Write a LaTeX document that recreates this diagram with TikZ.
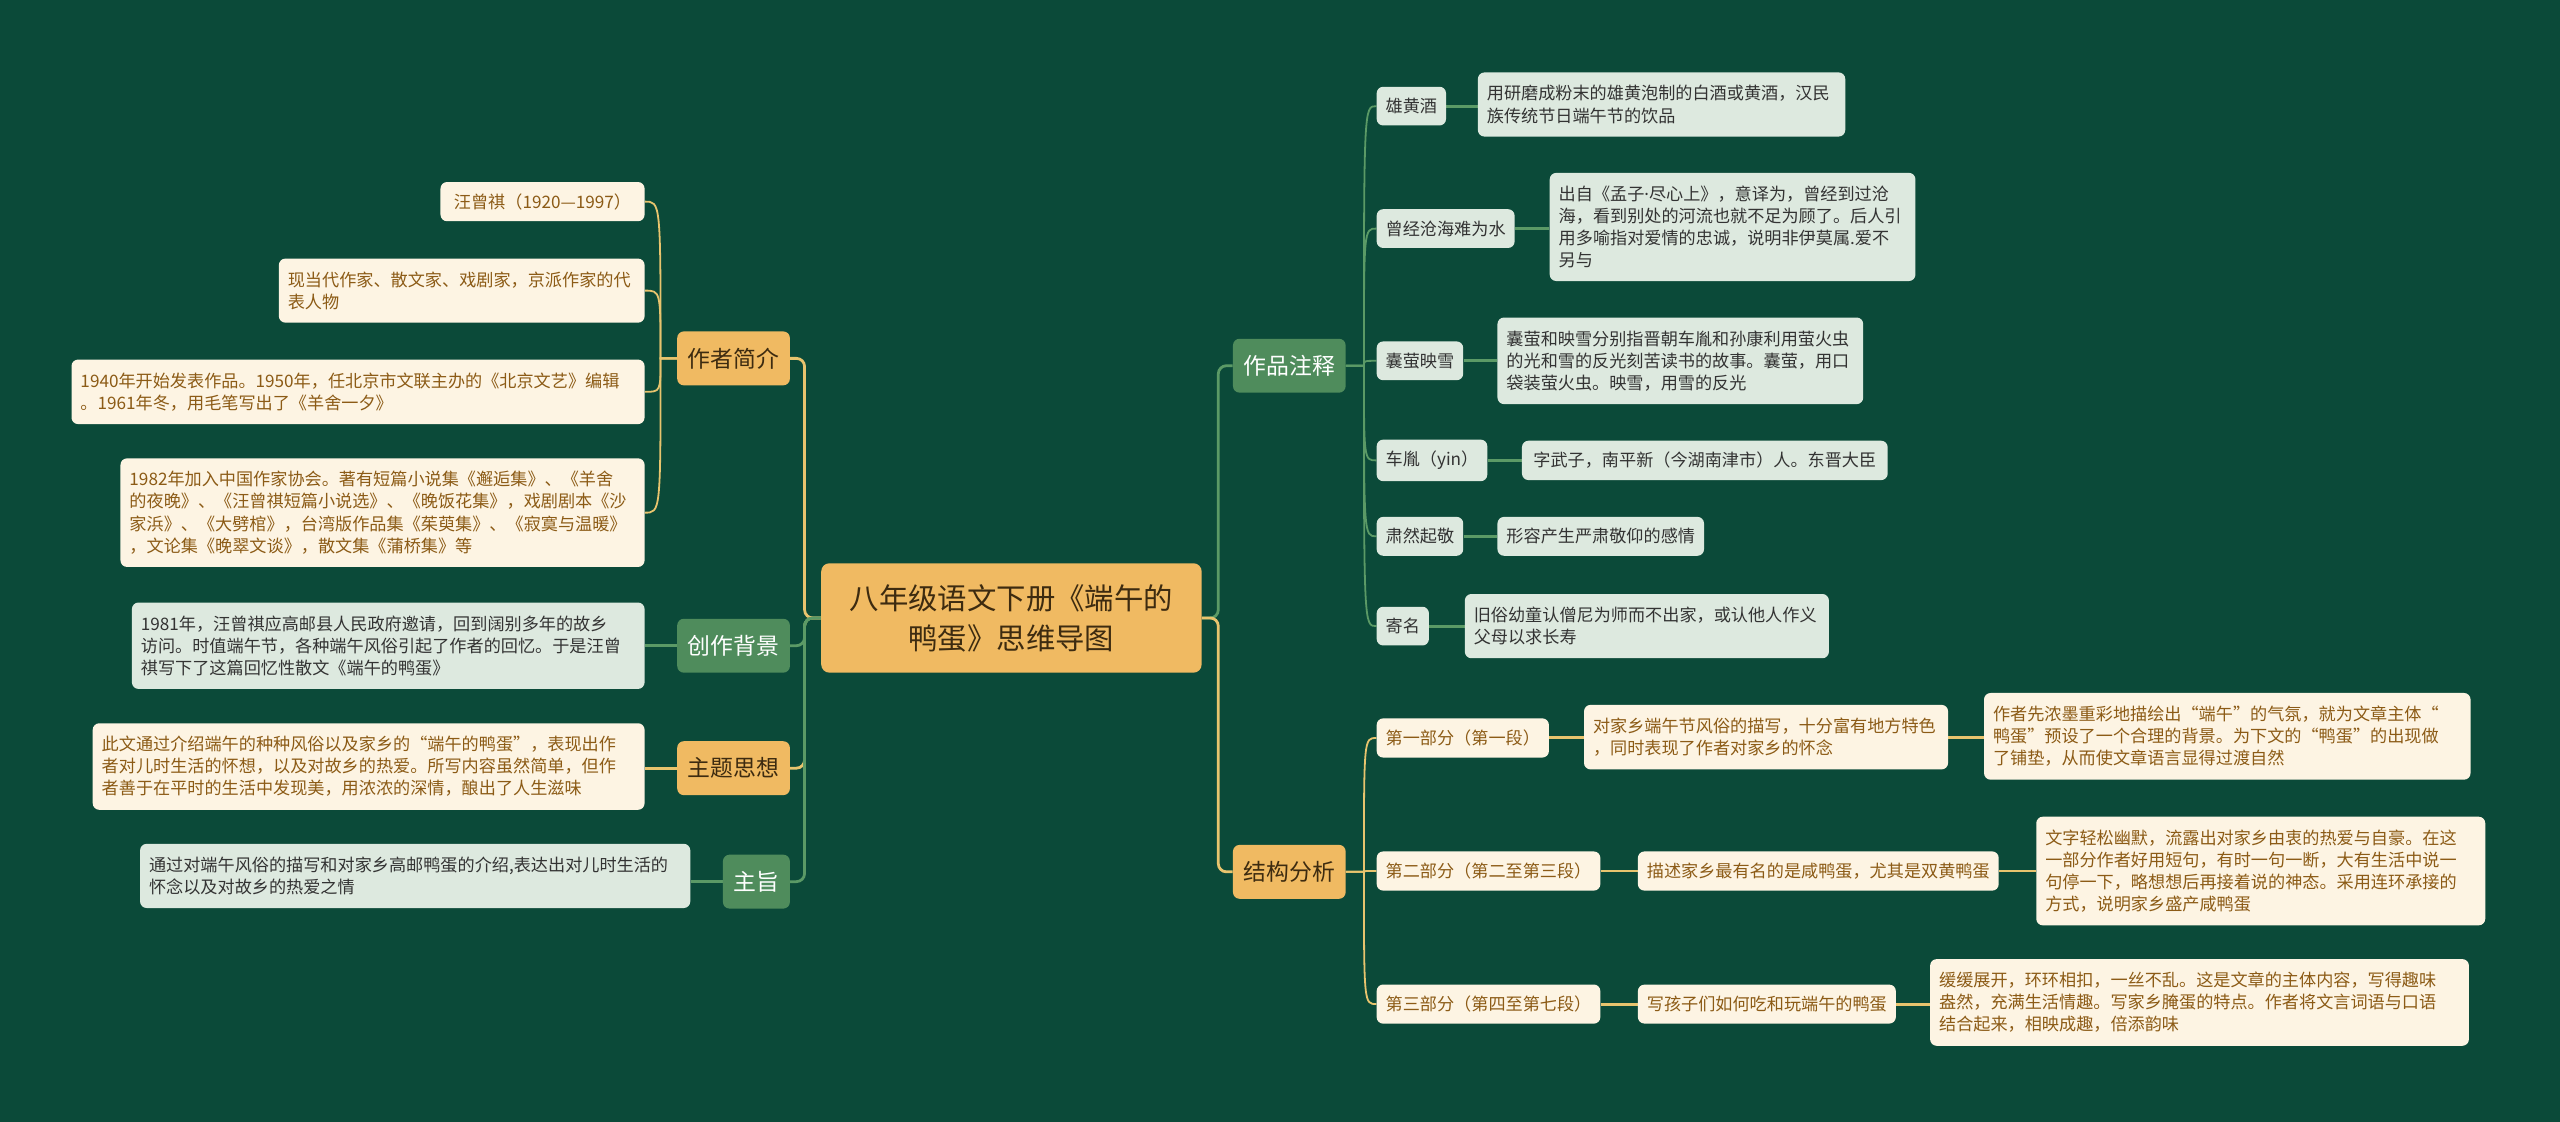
\documentclass[tikz,border=0pt]{standalone}
\usepackage{fontspec}
\setmainfont{Noto Sans CJK SC}
\newfontfamily\latinfont{Noto Sans}
\usepackage{tikz}
\usetikzlibrary{backgrounds}
\definecolor{bgdark}{HTML}{0B4A39}
\definecolor{mmorange}{HTML}{F0BA62}
\definecolor{mmgreen}{HTML}{4F8C5C}
\definecolor{mmmint}{HTML}{DDE9DF}
\definecolor{mmcream}{HTML}{FDF4E3}
\definecolor{mmbrown}{HTML}{8C5B16}
\definecolor{mmdark}{HTML}{3D2B10}
\definecolor{lnyellow}{HTML}{E8C46E}
\definecolor{lngreen}{HTML}{5B9A66}

\begin{document}
\begin{tikzpicture}[x=1pt, y=-1pt,
    root/.style={fill=mmorange, text=mmdark, rounded corners=5pt, align=center,
                 minimum width=233pt, minimum height=67pt, font=\fontsize{18}{24.5}\selectfont},
    topic/.style={rounded corners=4pt, minimum height=33pt, inner xsep=6.5pt,
                  font=\fontsize{14}{16}\selectfont},
    topicO/.style={topic, fill=mmorange, text=mmdark},
    topicG/.style={topic, fill=mmgreen, text=white},
    sub/.style={rounded corners=4pt, inner xsep=5.5pt, inner ysep=7pt,
                font=\fontsize{10.5}{13.5}\selectfont},
    subG/.style={sub, fill=mmmint, text=black!80},
    subO/.style={sub, fill=mmcream, text=mmbrown},
    leafG/.style={subG, align=left, inner ysep=8pt, text width=#1},
    leafO/.style={subO, align=left, inner ysep=8pt, text width=#1},
    link/.style={line width=1.7pt, rounded corners=5pt},
    twig/.style={line width=1.1pt},
    bar/.style={line width=1.8pt},
]
    \node[root] (root) at (619.5,378.5) {八年级语文下册《端午的\\鸭蛋》思维导图};

    % main topics
    \node[topicO, anchor=east] (bio)    at (484,219.5) {作者简介};
    \node[topicG, anchor=east] (bg)     at (484,395.5) {创作背景};
    \node[topicO, anchor=east] (theme)  at (484,470.5) {主题思想};
    \node[topicG, anchor=east] (gist)   at (484,540)   {主旨};
    \node[topicG, anchor=west] (notes)  at (755,224)   {作品注释};
    \node[topicO, anchor=west] (struct) at (755,534)   {结构分析};

    % left side
    \node[subO, anchor=east, minimum width=125pt] (bio1) at (395,123.5) {汪曾祺（1920—1997）};
    \node[leafO=213pt, anchor=east] (bio2) at (395,178) {现当代作家、散文家、戏剧家，京派作家的代\\表人物};
    \node[leafO=340pt, anchor=east] (bio3) at (395,240) {1940年开始发表作品。1950年，任北京市文联主办的《北京文艺》编辑\\。1961年冬，用毛笔写出了《羊舍一夕》};
    \node[leafO=310pt, anchor=east] (bio4) at (395,314) {1982年加入中国作家协会。著有短篇小说集《邂逅集》、《羊舍\\的夜晚》、《汪曾祺短篇小说选》、《晚饭花集》，戏剧剧本《沙\\家浜》、《大劈棺》，台湾版作品集《茱萸集》、《寂寞与温暖》\\，文论集《晚翠文谈》，散文集《蒲桥集》等};
    \node[leafG=303pt, anchor=east] (bgtext) at (395,395.5) {1981年，汪曾祺应高邮县人民政府邀请，回到阔别多年的故乡\\访问。时值端午节，各种端午风俗引起了作者的回忆。于是汪曾\\祺写下了这篇回忆性散文《端午的鸭蛋》};
    \node[leafO=327pt, anchor=east] (themetext) at (395,469.5) {此文通过介绍端午的种种风俗以及家乡的“端午的鸭蛋”，表现出作\\者对儿时生活的怀想，以及对故乡的热爱。所写内容虽然简单，但作\\者善于在平时的生活中发现美，用浓浓的深情，酿出了人生滋味};
    \node[leafG=326pt, anchor=east] (gisttext) at (423,536.5) {通过对端午风俗的描写和对家乡高邮鸭蛋的介绍,表达出对儿时生活的\\怀念以及对故乡的热爱之情};

    % right side: notes
    \node[subG, anchor=west] (n1) at (843,65)    {雄黄酒};
    \node[subG, anchor=west] (n2) at (843,140)   {曾经沧海难为水};
    \node[subG, anchor=west] (n3) at (843,221)   {囊萤映雪};
    \node[subG, anchor=west] (n4) at (843,282)   {车胤（yin）};
    \node[subG, anchor=west] (n5) at (843,328.5) {肃然起敬};
    \node[subG, anchor=west] (n6) at (843,383.5) {寄名};
    \node[leafG=214pt, anchor=west] (n1t) at (905,64)  {用研磨成粉末的雄黄泡制的白酒或黄酒，汉民\\族传统节日端午节的饮品};
    \node[leafG=213pt, anchor=west] (n2t) at (949,139) {出自《孟子{\latinfont ·}尽心上》，意译为，曾经到过沧\\海，看到别处的河流也就不足为顾了。后人引\\用多喻指对爱情的忠诚，说明非伊莫属.爱不\\另与};
    \node[leafG=213pt, anchor=west] (n3t) at (917,221) {囊萤和映雪分别指晋朝车胤和孙康利用萤火虫\\的光和雪的反光刻苦读书的故事。囊萤，用口\\袋装萤火虫。映雪，用雪的反光};
    \node[subG, anchor=west, minimum width=224pt, align=left] (n4t) at (932,282) {字武子，南平新（今湖南津市）人。东晋大臣};
    \node[subG, anchor=west] (n5t) at (917,328.5) {形容产生严肃敬仰的感情};
    \node[leafG=212pt, anchor=west] (n6t) at (897,383.5) {旧俗幼童认僧尼为师而不出家，或认他人作义\\父母以求长寿};

    % right side: structure
    \node[subO, anchor=west] (s1) at (843,452)   {第一部分（第一段）};
    \node[subO, anchor=west] (s2) at (843,533.5) {第二部分（第二至第三段）};
    \node[subO, anchor=west] (s3) at (843,615)   {第三部分（第四至第七段）};
    \node[leafO=212pt, anchor=west] (s1m) at (970,451.5) {对家乡端午节风俗的描写，十分富有地方特色\\，同时表现了作者对家乡的怀念};
    \node[subO, anchor=west] (s2m) at (1003,533.5) {描述家乡最有名的是咸鸭蛋，尤其是双黄鸭蛋};
    \node[subO, anchor=west] (s3m) at (1003,615)   {写孩子们如何吃和玩端午的鸭蛋};
    \node[leafO=287pt, anchor=west] (s1r) at (1215,451) {作者先浓墨重彩地描绘出“端午”的气氛，就为文章主体“\\鸭蛋”预设了一个合理的背景。为下文的“鸭蛋”的出现做\\了铺垫，从而使文章语言显得过渡自然};
    \node[leafO=264pt, anchor=west] (s2r) at (1247,533.5) {文字轻松幽默，流露出对家乡由衷的热爱与自豪。在这\\一部分作者好用短句，有时一句一断，大有生活中说一\\句停一下，略想想后再接着说的神态。采用连环承接的\\方式，说明家乡盛产咸鸭蛋};
    \node[leafO=319pt, anchor=west] (s3r) at (1182,614) {缓缓展开，环环相扣，一丝不乱。这是文章的主体内容，写得趣味\\盎然，充满生活情趣。写家乡腌蛋的特点。作者将文言词语与口语\\结合起来，相映成趣，倍添韵味};

    \coordinate (bioT)    at ([xshift=-10pt]bio.west);
    \coordinate (notesT)  at ([xshift=11pt]notes.east);
    \coordinate (structT) at ([xshift=11pt]struct.east);

    \begin{scope}[on background layer]
        \fill[bgdark] (0,0) rectangle (1568,687);
        % root to topics
        \draw[link, lnyellow] (root.west) -- ++(-10,0) |- (bio.east);
        \draw[link, lnyellow] (root.west) -- ++(-10,0) |- (theme.east);
        \draw[link, lngreen]  (root.west) -- ++(-10,0) |- (bg.east);
        \draw[link, lngreen]  (root.west) -- ++(-10,0) |- (gist.east);
        \draw[link, lngreen]  (root.east) -- ++(10,0) |- (notes.west);
        \draw[link, lnyellow] (root.east) -- ++(10,0) |- (struct.west);
        % curved branches
        \foreach \c in {bio1,bio2,bio3,bio4}
            \draw[twig, lnyellow] (bio.west) -- (bioT) .. controls (bioT |- \c.east) .. (\c.east);
        \foreach \c in {n1,n2,n3,n4,n5,n6}
            \draw[twig, lngreen] (notes.east) -- (notesT) .. controls (notesT |- \c.west) .. (\c.west);
        \foreach \c in {s1,s2,s3}
            \draw[twig, lnyellow] (struct.east) -- (structT) .. controls (structT |- \c.west) .. (\c.west);
        % straight leaf links
        \draw[bar, lngreen]  (bg.west) -- (bg.west -| bgtext.east);
        \draw[bar, lnyellow] (theme.west) -- (theme.west -| themetext.east);
        \draw[bar, lngreen]  (gist.west) -- (gist.west -| gisttext.east);
        \foreach \a/\b in {n1/n1t,n2/n2t,n3/n3t,n4/n4t,n5/n5t,n6/n6t}
            \draw[bar, lngreen] (\a.east) -- (\a.east -| \b.west);
        \foreach \a/\b in {s1/s1m,s1m/s1r,s2/s2m,s2m/s2r,s3/s3m,s3m/s3r}
            \draw[bar, lnyellow] (\a.east) -- (\a.east -| \b.west);
    \end{scope}
\end{tikzpicture}
\end{document}
